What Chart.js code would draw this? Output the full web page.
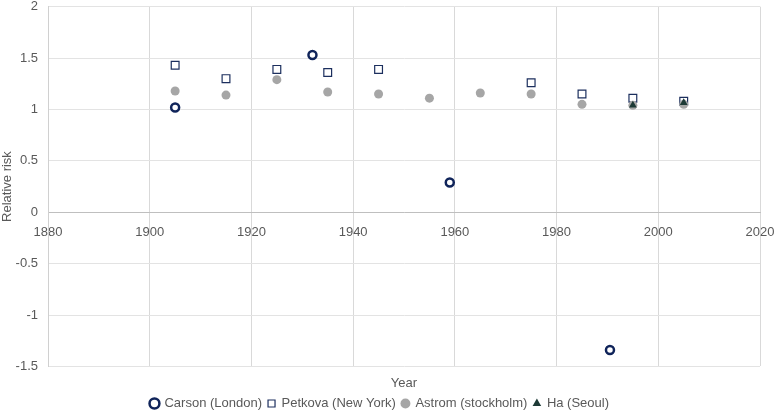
<!DOCTYPE html>
<html>
<head>
<meta charset="utf-8">
<script src="https://cdn.jsdelivr.net/npm/chart.js@4/dist/chart.umd.min.js"></script>
<style>
  html,body{margin:0;padding:0;background:#fff;}
</style>
</head>
<body>
<canvas id="c" width="775" height="415"></canvas>
<script>
/* ---------- data ---------- */
const SERIES_NAMES = ['Carson (London)','Petkova (New York)','Astrom (stockholm)','Ha (Seoul)'];

const CARSON_YEAR  = [1905, 1932, 1959, 1990.5];
const CARSON_RR    = [1.02, 1.53, 0.29, -1.34];

const PETKOVA_YEAR = [1905, 1915, 1925, 1935, 1945, 1975, 1985, 1995, 2005];
const PETKOVA_RR   = [1.43, 1.30, 1.39, 1.36, 1.39, 1.26, 1.15, 1.11, 1.08];

const ASTROM_YEAR  = [1905, 1915, 1925, 1935, 1945, 1955, 1965, 1975, 1985, 1995, 2005];
const ASTROM_RR    = [1.18, 1.14, 1.29, 1.17, 1.15, 1.11, 1.16, 1.15, 1.05, 1.04, 1.05];

const HA_YEAR      = [1995, 2005];
const HA_RR        = [1.04, 1.065];

const X_TICKS = [1880, 1900, 1920, 1940, 1960, 1980, 2000, 2020];
const Y_TICKS = [-1.5, -1, -0.5, 0, 0.5, 1, 1.5, 2];

/* ---------- helpers ---------- */
const pts = (xs, ys) => xs.map((x, i) => ({x, y: ys[i]}));
const TXT = '#595959';
Chart.defaults.font.family = 'Liberation Sans, Arial, sans-serif';
Chart.defaults.font.size = 13;
Chart.defaults.color = TXT;

new Chart(document.getElementById('c'), {
  type: 'scatter',
  data: {
    datasets: [
      {label: SERIES_NAMES[0], data: pts(CARSON_YEAR, CARSON_RR), order: 1,
       pointStyle: 'circle', pointRadius: 4, borderWidth: 2.5,
       borderColor: '#10245a', backgroundColor: '#fff'},
      {label: SERIES_NAMES[1], data: pts(PETKOVA_YEAR, PETKOVA_RR), order: 2,
       pointStyle: 'rect', pointRadius: 5.5, borderWidth: 1.2,
       borderColor: '#1c2f5e', backgroundColor: '#fff'},
      {label: SERIES_NAMES[2], data: pts(ASTROM_YEAR, ASTROM_RR), order: 1,
       pointStyle: 'circle', pointRadius: 4.5, borderWidth: 0,
       borderColor: '#a6a6a6', backgroundColor: '#a6a6a6'},
      {label: SERIES_NAMES[3], data: pts(HA_YEAR, HA_RR), order: 0,
       pointStyle: 'triangle', pointRadius: 4.5, borderWidth: 0,
       borderColor: '#1d3a36', backgroundColor: '#1d3a36'}
    ]
  },
  options: {
    responsive: false,
    animation: false,
    devicePixelRatio: 1,
    layout: {padding: {left: 0, right: 15, top: 0, bottom: -5}},
    plugins: {
      legend: {
        position: 'bottom',
        labels: {usePointStyle: true, boxWidth: 7, boxHeight: 7, padding: 6, color: TXT,
                 font: {size: 13}, sort: (a, b) => a.datasetIndex - b.datasetIndex}
      },
      tooltip: {enabled: false}
    },
    scales: {
      x: {
        type: 'linear', position: 'bottom', min: 1880, max: 2020,
        afterBuildTicks: a => { a.ticks = X_TICKS.map(v => ({value: v})); },
        ticks: {display: false},
        grid: {color: '#d9d9d9', drawTicks: false},
        border: {display: false},
        title: {display: true, text: 'Year', color: TXT, font: {size: 13}, padding: {top: 9, bottom: 0}}
      },
      xz: {
        type: 'linear', position: {y: 0}, min: 1880, max: 2020,
        afterBuildTicks: a => { a.ticks = X_TICKS.map(v => ({value: v})); },
        afterFit: s => { s.height = 0; s.paddingLeft = 0; s.paddingRight = 0; },
        ticks: {color: TXT, padding: 12, maxRotation: 0, callback: v => String(v)},
        grid: {display: false, drawTicks: false},
        border: {color: '#bfbfbf', width: 1}
      },
      y: {
        min: -1.5, max: 2,
        afterBuildTicks: a => { a.ticks = Y_TICKS.map(v => ({value: v})); },
        afterFit: s => { s.width = 48; s.paddingTop = 5; s.paddingBottom = 0; },
        ticks: {color: TXT, padding: 10, callback: v => String(v)},
        grid: {color: '#e3e3e3', drawTicks: false},
        border: {color: '#d0d0d0'},
        title: {display: true, text: 'Relative risk', color: TXT, font: {size: 13}, padding: {top: 0, bottom: 0}}
      }
    }
  }
});
</script>
</body>
</html>
